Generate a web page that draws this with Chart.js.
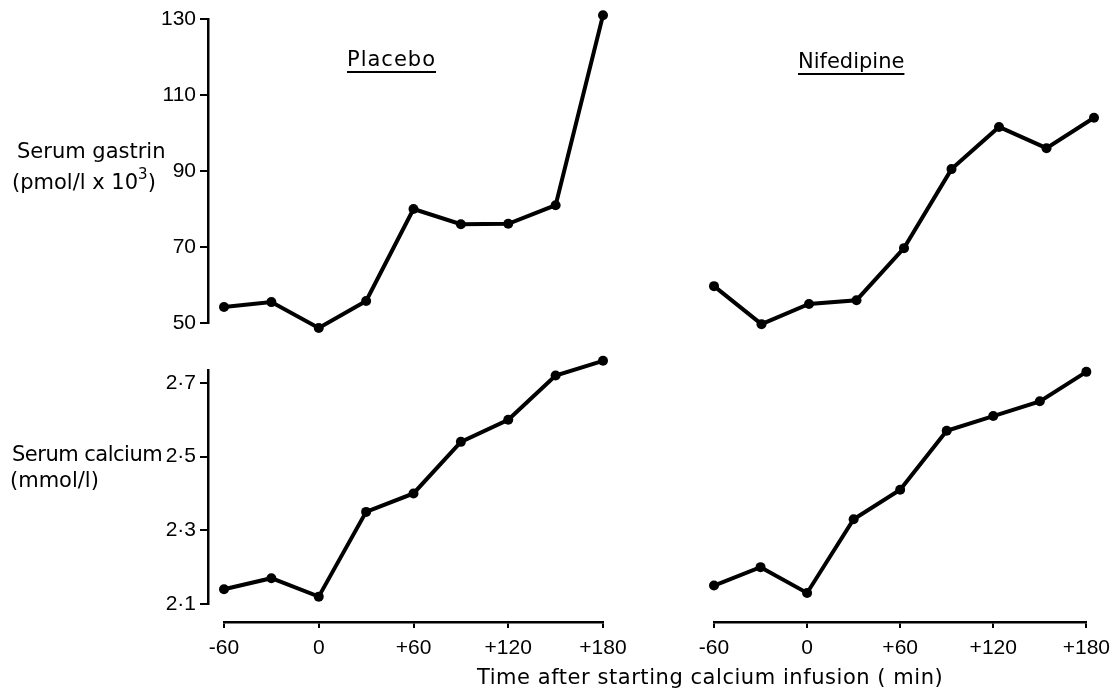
<!DOCTYPE html>
<html>
<head>
<meta charset="utf-8">
<script src="https://cdn.jsdelivr.net/npm/chart.js@4.4.1/dist/chart.umd.min.js"></script>
<style>
  body { margin: 0; background: #fff; }
  #wrap { position: relative; width: 1118px; height: 694px; overflow: hidden; }
  #wrap canvas { position: absolute; left: 0; top: 0; }
  .lbl { position: absolute; font-family: "DejaVu Sans", sans-serif; font-size: 21px; color: #000; line-height: 21px; white-space: nowrap; }
  .head { text-decoration: underline; text-decoration-thickness: 2px; text-underline-offset: 5px; text-decoration-skip-ink: auto; }
  sup { font-size: 15px; line-height: 0; position: relative; top: -2px; }
</style>
</head>
<body>
<div id="wrap">
  <canvas id="gastrinAxis" width="1118" height="694"></canvas>
  <canvas id="calciumAxis" width="1118" height="694"></canvas>
  <canvas id="placeboGastrinChart" width="1118" height="694"></canvas>
  <canvas id="nifedipineGastrinChart" width="1118" height="694"></canvas>
  <canvas id="placeboCalciumChart" width="1118" height="694"></canvas>
  <canvas id="nifedipineCalciumChart" width="1118" height="694"></canvas>

  <div class="lbl head" style="left:347px; top:49px; letter-spacing:1px;">Placebo</div>
  <div class="lbl head" style="left:798px; top:51px;">Nifedipine</div>
  <div class="lbl" style="left:17px; top:141px;">Serum gastrin</div>
  <div class="lbl" style="left:12px; top:172px;">(pmol/l x 10<sup>3</sup>)</div>
  <div class="lbl" style="left:12px; top:444px; letter-spacing:-0.5px;">Serum calcium</div>
  <div class="lbl" style="left:10px; top:470px;">(mmol/l)</div>
  <div class="lbl" style="left:477px; top:667px; letter-spacing:0.55px;">Time after starting calcium infusion ( min)</div>
</div>

<script>
// sample times (min after starting calcium infusion)
const times = [-60, -30, 0, 30, 60, 90, 120, 150, 180];

// serum gastrin (pmol/l x 10^3)
const placeboGastrin = [54.2, 55.5, 48.7, 55.8, 80, 76, 76.1, 81, 131];
const nifedipineGastrin = [59.7, 49.7, 55, 56, 69.7, 90.5, 101.6, 96, 104];

// serum calcium (mmol/l)
const placeboCalcium = [2.14, 2.17, 2.12, 2.35, 2.40, 2.54, 2.60, 2.72, 2.76];
const nifedipineCalcium = [2.15, 2.20, 2.13, 2.33, 2.41, 2.57, 2.61, 2.65, 2.73];

// tick labels
const timeTicks = [-60, 0, 60, 120, 180];
const gastrinTicks = [50, 70, 90, 110, 130];
const calciumTicks = [2.1, 2.3, 2.5, 2.7];

Chart.defaults.font.family = "'Liberation Sans', Arial, sans-serif";
Chart.defaults.color = '#000';

const W = 1118, H = 694;

// vertical mapping of each row: value at a page y, and pixels per unit
const gastrinRow = { base: 50, baseY: 323, ppu: 3.8 };
const calciumRow = { base: 2.1, baseY: 604, ppu: 368.5 };

function valueAt(row, y) {
    return row.base + (row.baseY - y) / row.ppu;
}

function timeLabel(v) {
    return v > 0 ? '+' + v : String(v);
}

function calciumLabel(v) {
    return v.toFixed(1).replace('.', '\u00b7');
}

// one panel of data; area = [left, top, right, bottom] of the plot in page pixels
function plotPanel(id, values, row, area, showX) {
    const ctx = document.getElementById(id).getContext('2d');
    return new Chart(ctx, {
        type: 'line',
        data: {
            datasets: [{
                data: times.map((t, i) => ({ x: t, y: values[i] })),
                borderColor: '#000',
                backgroundColor: '#000',
                borderWidth: 4,
                pointRadius: 5,
                pointBorderWidth: 0,
                tension: 0,
                clip: false
            }]
        },
        options: {
            responsive: false,
            animation: false,
            events: [],
            layout: {
                padding: { left: area[0], top: area[1], right: W - area[2], bottom: showX ? H - area[3] - 40 : H - area[3] }
            },
            plugins: { legend: { display: false }, tooltip: { enabled: false } },
            scales: {
                x: {
                    type: 'linear',
                    min: -60,
                    max: 180,
                    display: showX,
                    afterFit: s => { if (showX) s.height = 40; },
                    afterBuildTicks: s => { s.ticks = timeTicks.map(v => ({ value: v })); },
                    grid: { drawOnChartArea: false, drawTicks: true, tickLength: 6, color: '#000', lineWidth: 2 },
                    border: { display: true, color: '#000', width: 2.5 },
                    ticks: { color: '#000', font: { size: 21 }, padding: 8, maxRotation: 0, autoSkip: false, callback: timeLabel }
                },
                y: { type: 'linear', display: false, min: valueAt(row, area[3]), max: valueAt(row, area[1]) }
            }
        }
    });
}

// a bare y axis drawn at page x = axisX, between page y top and bottom
function plotAxis(id, ticks, row, axisX, top, bottom, fmt) {
    const ctx = document.getElementById(id).getContext('2d');
    return new Chart(ctx, {
        type: 'line',
        data: { datasets: [] },
        options: {
            responsive: false,
            animation: false,
            events: [],
            layout: { padding: { left: axisX - 80, top: top, right: W - axisX - 50, bottom: H - bottom } },
            plugins: { legend: { display: false }, tooltip: { enabled: false } },
            scales: {
                x: { type: 'linear', display: false, min: 0, max: 1 },
                y: {
                    type: 'linear',
                    position: 'left',
                    min: valueAt(row, bottom),
                    max: valueAt(row, top),
                    afterFit: s => { s.width = 80; },
                    afterBuildTicks: s => { s.ticks = ticks.map(v => ({ value: v })); },
                    grid: { drawOnChartArea: false, drawTicks: true, tickLength: 8, color: '#000', lineWidth: 2 },
                    border: { display: true, color: '#000', width: 2.5 },
                    ticks: { color: '#000', font: { size: 21 }, padding: 4, callback: fmt }
                }
            }
        }
    });
}

// axes: gastrin 50..130, calcium 2.1 up to the line top at y=370
plotAxis('gastrinAxis', gastrinTicks, gastrinRow, 208, 19, 323, v => String(v));
plotAxis('calciumAxis', calciumTicks, calciumRow, 208, 370, 604, calciumLabel);

// plot areas are a bit taller than the axes so end points are not dropped
plotPanel('placeboGastrinChart', placeboGastrin, gastrinRow, [224, 5, 603, 340], false);
plotPanel('nifedipineGastrinChart', nifedipineGastrin, gastrinRow, [714, 5, 1094, 340], false);
plotPanel('placeboCalciumChart', placeboCalcium, calciumRow, [224, 345, 603, 622], true);
plotPanel('nifedipineCalciumChart', nifedipineCalcium, calciumRow, [714, 345, 1094, 622], true);
</script>
</body>
</html>
